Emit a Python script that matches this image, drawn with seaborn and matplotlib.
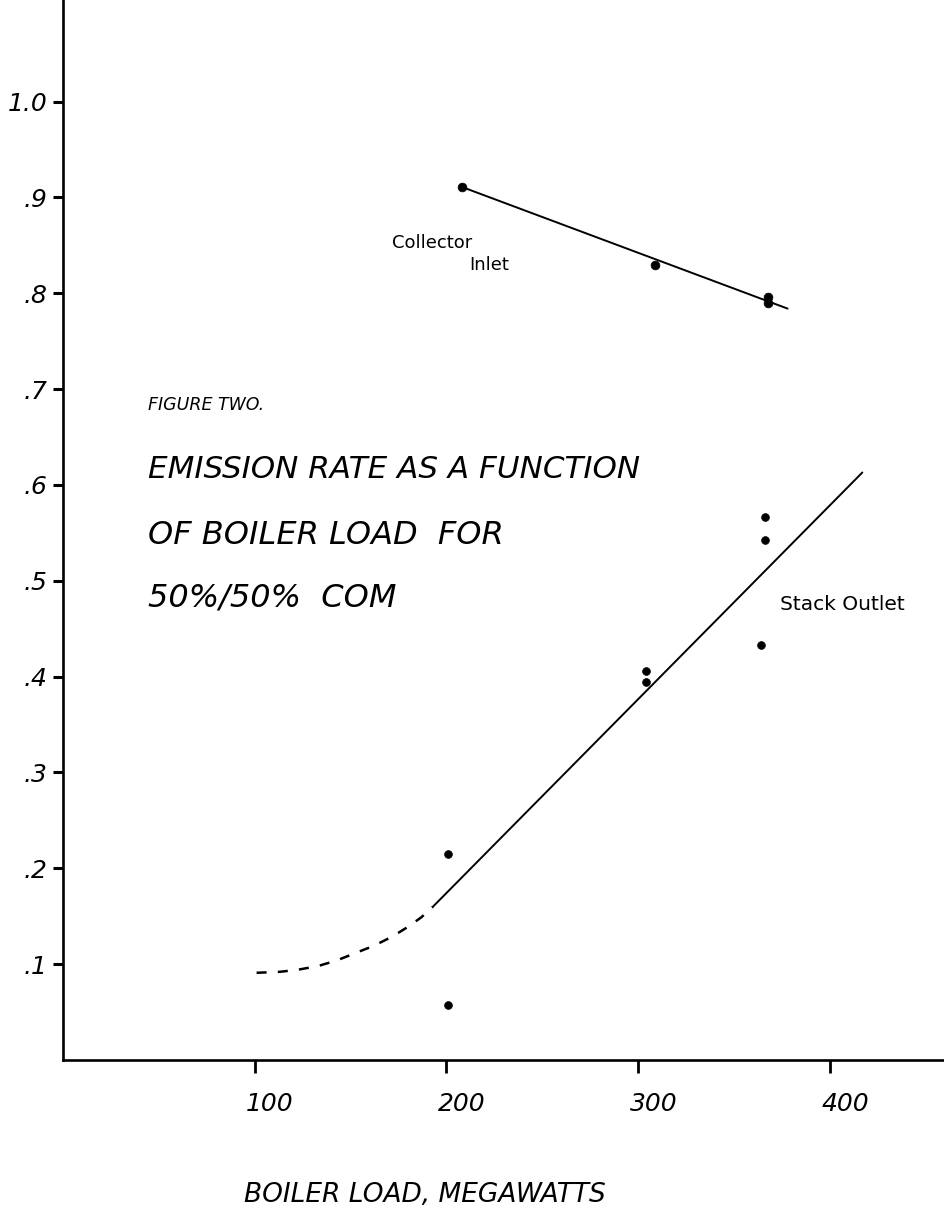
import matplotlib
matplotlib.use("Agg")
import matplotlib.pyplot as plt
import matplotlib.transforms as mtransforms
import seaborn as sns
import pandas as pd

# ---------------- data ----------------
inlet_x = [208, 309, 368, 368]
inlet_y = [0.911, 0.830, 0.796, 0.790]
inlet_fit_x = [208, 378]
inlet_fit_y = [0.911, 0.784]

stack_x = [201, 201, 304, 304, 364, 366, 366]
stack_y = [0.215, 0.057, 0.406, 0.394, 0.433, 0.567, 0.543]
stack_fit_x = [193, 417]
stack_fit_y = [0.160, 0.613]
stack_dash_x = [101, 113, 122, 133, 143, 153, 162, 172, 180, 187, 193]
stack_dash_y = [0.091, 0.092, 0.094, 0.098, 0.104, 0.112, 0.119, 0.129, 0.139, 0.149, 0.160]

x_ticks = [100, 200, 300, 400]
x_tick_labels = ["100", "200", "300", "400"]
y_ticks = [0.1, 0.2, 0.3, 0.4, 0.5, 0.6, 0.7, 0.8, 0.9, 1.0]
y_tick_labels = [".1", ".2", ".3", ".4", ".5", ".6", ".7", ".8", ".9", "1.0"]

title_lines = ["FIGURE TWO.", "EMISSION RATE AS A FUNCTION", "OF BOILER LOAD  FOR", "50%/50%  COM"]
x_label = "BOILER LOAD, MEGAWATTS"
inlet_label = ["Collector", "Inlet"]
stack_label = "Stack Outlet"

# ---------------- plot ----------------
sns.set_theme(style="white")
plt.rcParams["font.family"] = ["DejaVu Sans"]
plt.rcParams["text.color"] = "black"
plt.rcParams["xtick.color"] = "black"
plt.rcParams["ytick.color"] = "black"

W, H = 944, 1217
fig = plt.figure(figsize=(W / 100, H / 100), dpi=100)
ax = fig.add_axes([63 / W, (H - 1060) / H, 1 - 63 / W, 1060 / H])

inlet_pts = pd.DataFrame({"x": inlet_x, "y": inlet_y})
stack_pts = pd.DataFrame({"x": stack_x, "y": stack_y})

sns.lineplot(x=inlet_fit_x, y=inlet_fit_y, ax=ax, color="black", lw=1.4, sort=False)
sns.lineplot(x=stack_fit_x, y=stack_fit_y, ax=ax, color="black", lw=1.4, sort=False)
sns.lineplot(x=stack_dash_x, y=stack_dash_y, ax=ax, color="black", lw=1.8, sort=False,
             linestyle=(0, (4, 4.5)))
sns.scatterplot(data=inlet_pts, x="x", y="y", ax=ax, color="black", s=40, edgecolor="black", zorder=5)
sns.scatterplot(data=stack_pts, x="x", y="y", ax=ax, color="black", s=32, edgecolor="black", zorder=5)

ax.set_xlim(0, 459.6)
ax.set_ylim(0, 1.106)

for side in ["top", "right"]:
    ax.spines[side].set_visible(False)
for side in ["left", "bottom"]:
    ax.spines[side].set_color("black")
    ax.spines[side].set_linewidth(1.9)

ax.set_xticks(x_ticks)
ax.set_xticklabels(x_tick_labels, fontsize=18, style="italic")
ax.set_yticks(y_ticks)
ax.set_yticklabels(y_tick_labels, fontsize=18, style="italic")
ax.tick_params(axis="x", direction="out", length=9, width=2, bottom=True, pad=14)
ax.tick_params(axis="y", direction="out", length=7, width=2.2, left=True, pad=4)

# hand-lettered x labels sit slightly to the right of their ticks
offset = mtransforms.ScaledTranslation(11 / 72, 0, fig.dpi_scale_trans)
for lab in ax.get_xticklabels():
    lab.set_transform(lab.get_transform() + offset)

ax.set_xlabel("")
ax.set_ylabel("")
ax.grid(False)

fig.text(425 / W, 1 - 1195 / H, x_label, ha="center", va="center", fontsize=19, style="italic")

fig.text(148 / W, 1 - 405 / H, title_lines[0], ha="left", va="center", fontsize=12.5, style="italic")
fig.text(148 / W, 1 - 470 / H, title_lines[1], ha="left", va="center", fontsize=22.3, style="italic")
fig.text(148 / W, 1 - 535 / H, title_lines[2], ha="left", va="center", fontsize=23, style="italic")
fig.text(148 / W, 1 - 598 / H, title_lines[3], ha="left", va="center", fontsize=23, style="italic")

fig.text(392 / W, 1 - 243 / H, inlet_label[0], ha="left", va="center", fontsize=13)
fig.text(469 / W, 1 - 265 / H, inlet_label[1], ha="left", va="center", fontsize=13)
fig.text(780 / W, 1 - 605 / H, stack_label, ha="left", va="center", fontsize=14.5)

fig.savefig("out.png", dpi=100)
